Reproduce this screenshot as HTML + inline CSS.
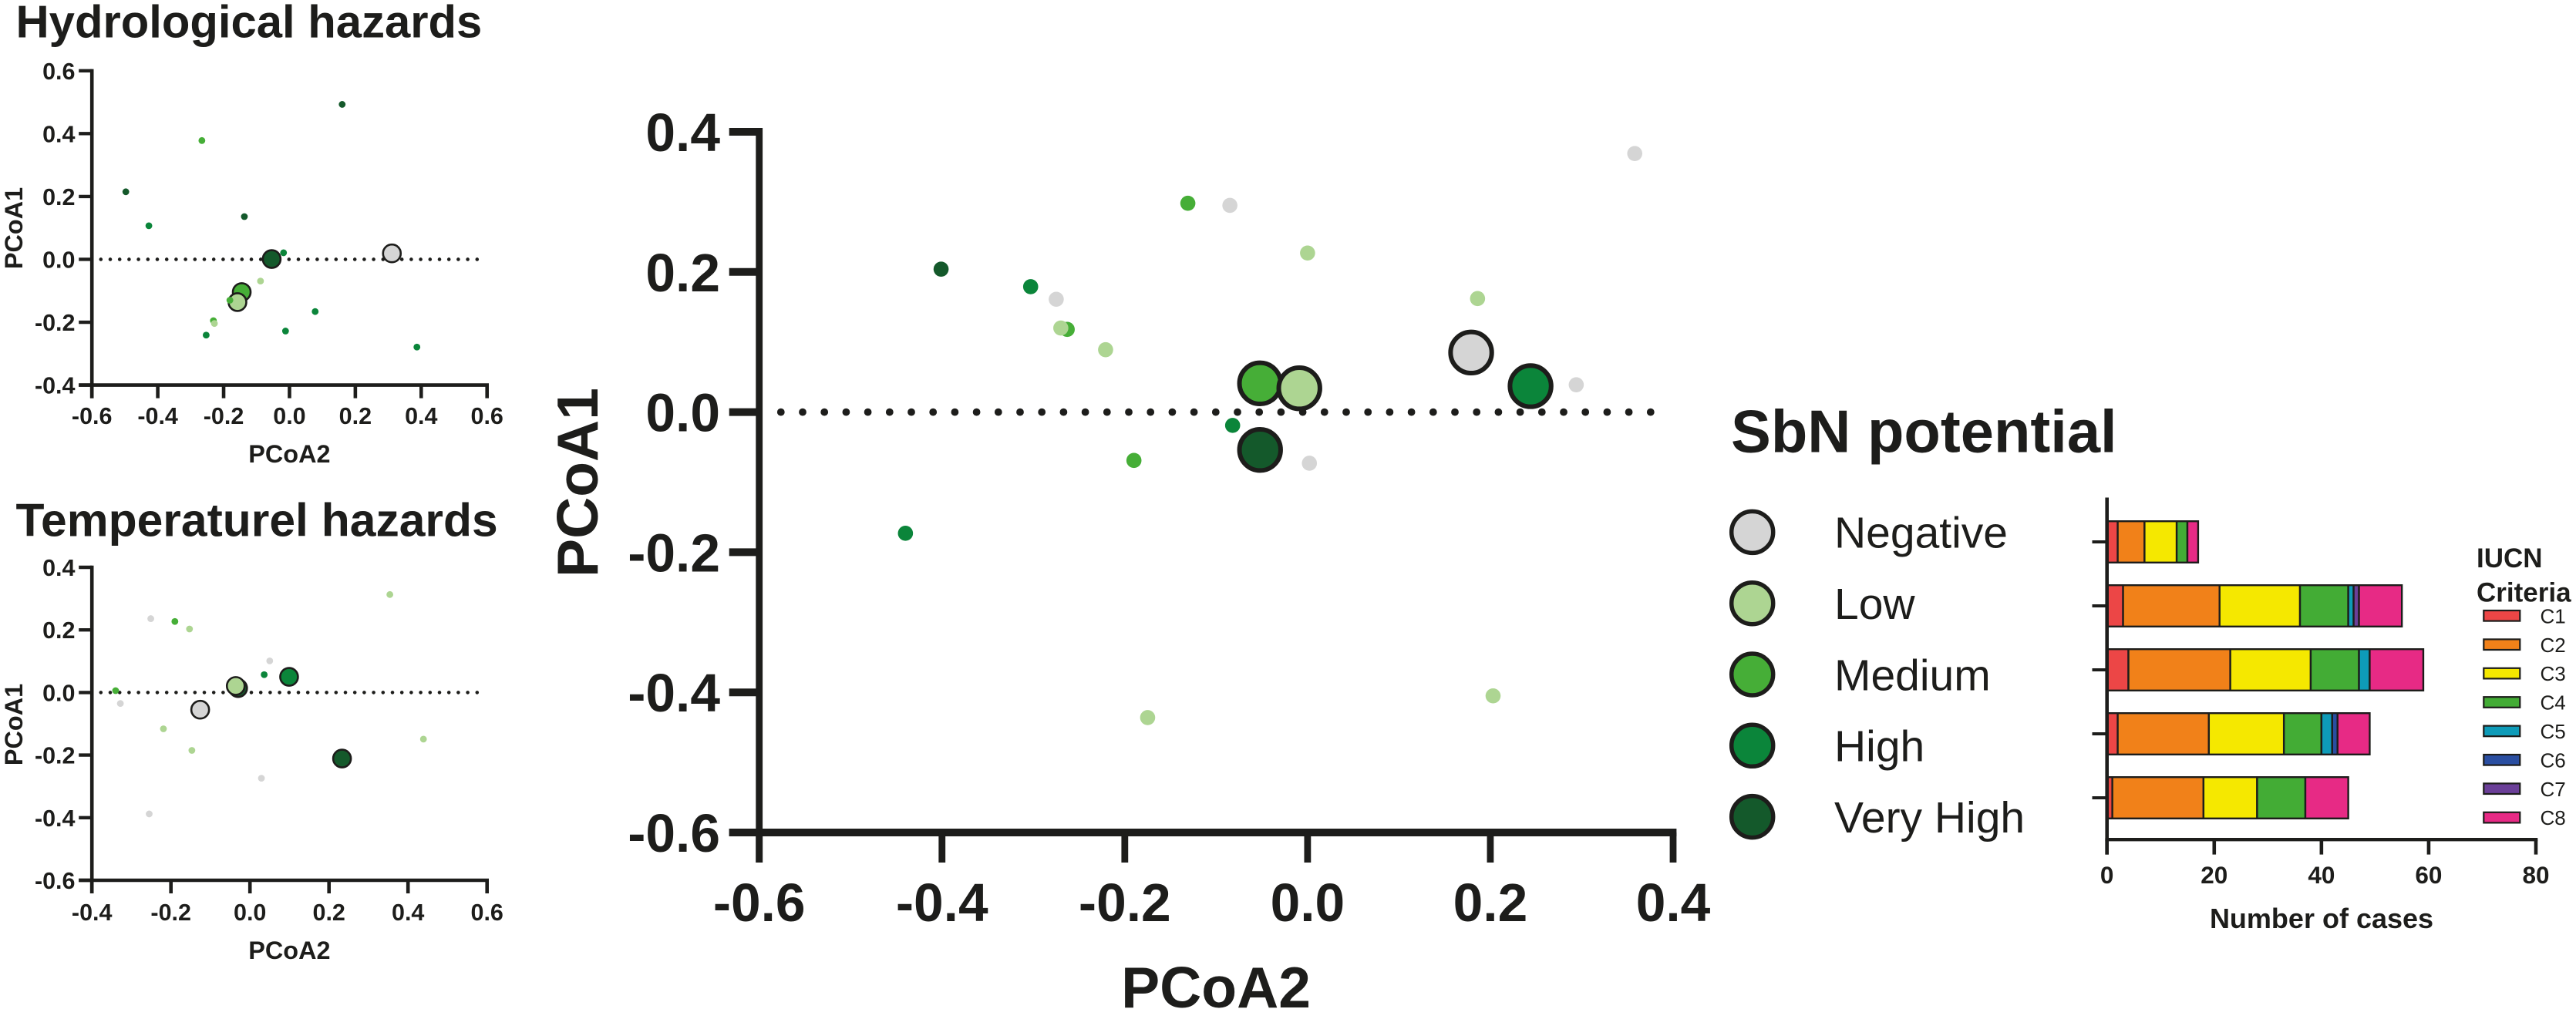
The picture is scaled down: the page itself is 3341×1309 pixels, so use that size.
<!DOCTYPE html>
<html lang="en">
<head>
<meta charset="utf-8">
<title>SbN potential ordination and IUCN criteria</title>
<style>
html,body{margin:0;padding:0;background:#fff;}
body{width:3341px;height:1309px;overflow:hidden;}
svg{display:block;}
text{font-family:"Liberation Sans",sans-serif;fill:#1d1d1b;}
</style>
</head>
<body>
<svg id="figure" xmlns="http://www.w3.org/2000/svg" width="3341" height="1309" viewBox="0 0 3341 1309">
  <rect x="0" y="0" width="3341" height="1309" fill="#ffffff"/>
  <text x="20.5" y="48.5" font-size="59.8" font-weight="700">Hydrological hazards</text>
  <text x="20.5" y="695.5" font-size="60.6" font-weight="700">Temperaturel hazards</text>
  <text x="2245" y="586.5" font-size="77.7" font-weight="700">SbN potential</text>
  <text x="3212" y="736" font-size="35" font-weight="700">IUCN</text>
  <text x="3212" y="780.4" font-size="35" font-weight="700">Criteria</text>
</svg>
<script>
// ---------- shared categories ----------
const levelNames = ['Negative', 'Low', 'Medium', 'High', 'Very High'];
const levelColors = ['#d5d5d5', '#add592', '#46ae37', '#0b853a', '#14592b'];

// ---------- hydrological panel ----------
const hydroXTicks = ['-0.6', '-0.4', '-0.2', '0.0', '0.2', '0.4', '0.6'];
const hydroYTicks = ['-0.4', '-0.2', '0.0', '0.2', '0.4', '0.6'];
const hydroLevel = [4, 2, 4, 3, 4, 3, 1, 2, 3, 3, 3, 2, 1, 3];
const hydroX = [0.160, -0.266, -0.497, -0.427, -0.137, -0.018, -0.088, -0.181, 0.078, -0.012, -0.253, -0.231, -0.228, 0.387];
const hydroY = [0.493, 0.378, 0.215, 0.107, 0.136, 0.021, -0.069, -0.130, -0.166, -0.228, -0.241, -0.195, -0.204, -0.279];
const hydroMeanLevel = [4, 0, 2, 1];
const hydroMeanX = [-0.054, 0.311, -0.145, -0.158];
const hydroMeanY = [0.001, 0.019, -0.104, -0.136];

// ---------- temperature panel ----------
const tempXTicks = ['-0.4', '-0.2', '0.0', '0.2', '0.4', '0.6'];
const tempYTicks = ['-0.6', '-0.4', '-0.2', '0.0', '0.2', '0.4'];
const tempLevel = [1, 0, 2, 1, 0, 3, 2, 0, 1, 1, 1, 0, 0];
const tempX = [0.354, -0.251, -0.190, -0.153, 0.050, 0.036, -0.340, -0.328, -0.219, -0.147, 0.439, 0.029, -0.255];
const tempY = [0.313, 0.236, 0.227, 0.203, 0.101, 0.057, 0.006, -0.035, -0.116, -0.185, -0.149, -0.274, -0.388];
const tempMeanLevel = [3, 4, 1, 0, 4];
const tempMeanX = [0.099, -0.030, -0.036, -0.126, 0.233];
const tempMeanY = [0.050, 0.014, 0.021, -0.055, -0.211];

// ---------- main panel ----------
const mainXTicks = ['-0.6', '-0.4', '-0.2', '0.0', '0.2', '0.4'];
const mainYTicks = ['-0.6', '-0.4', '-0.2', '0.0', '0.2', '0.4'];
const mainLevel = [0, 2, 0, 1, 3, 0, 2, 1, 1, 1, 0, 3, 2, 0, 4, 3, 1, 1];
const mainX = [0.358, -0.131, -0.085, 0.000, -0.303, -0.275, -0.263, -0.270, -0.221, 0.186, 0.294, -0.082, -0.190, 0.002, -0.401, -0.440, -0.175, 0.203];
const mainY = [0.369, 0.298, 0.295, 0.227, 0.179, 0.161, 0.118, 0.120, 0.089, 0.162, 0.039, -0.019, -0.069, -0.073, 0.204, -0.173, -0.436, -0.405];
const mainMeanLevel = [2, 1, 0, 3, 4];
const mainMeanX = [-0.052, -0.009, 0.179, 0.244, -0.052];
const mainMeanY = [0.041, 0.034, 0.085, 0.037, -0.054];

// ---------- stacked bar chart ----------
const barXTicks = [0, 20, 40, 60, 80];
const criteriaNames = ['C1', 'C2', 'C3', 'C4', 'C5', 'C6', 'C7', 'C8'];
const criteriaColors = ['#ec4646', '#f18119', '#f5e800', '#43ac35', '#0e9bb8', '#2a4ea1', '#6b3f98', '#e72a85'];
const casesC1 = [2, 3, 4, 2, 1];
const casesC2 = [5, 18, 19, 17, 17];
const casesC3 = [6, 15, 15, 14, 10];
const casesC4 = [2, 9, 9, 7, 9];
const casesC5 = [0, 1, 2, 2, 0];
const casesC6 = [0, 0, 0, 1, 0];
const casesC7 = [0, 1, 0, 0, 0];
const casesC8 = [2, 8, 10, 6, 8];
const caseSeries = [casesC1, casesC2, casesC3, casesC4, casesC5, casesC6, casesC7, casesC8];

const INK = '#1d1d1b';
const NS = 'http://www.w3.org/2000/svg';
const root = document.getElementById('figure');

function make(tag, attrs, parent, content) {
  const el = document.createElementNS(NS, tag);
  for (const key in attrs) el.setAttribute(key, attrs[key]);
  if (content !== undefined) el.textContent = content;
  parent.appendChild(el);
  return el;
}

function scatterPanel(cfg) {
  const g = make('g', {}, root);
  
  

  const xMin = parseFloat(cfg.xTicks[0]);
  const xMax = parseFloat(cfg.xTicks[cfg.xTicks.length - 1]);
  const yMin = parseFloat(cfg.yTicks[0]);
  const yMax = parseFloat(cfg.yTicks[cfg.yTicks.length - 1]);
  const sx = v => cfg.left + (v - xMin) / (xMax - xMin) * (cfg.right - cfg.left);
  const sy = v => cfg.bottom - (v - yMin) / (yMax - yMin) * (cfg.bottom - cfg.top);

  const zero = make('line', {
    x1: cfg.dotStart, x2: cfg.dotEnd, y1: sy(0), y2: sy(0),
    stroke: INK, 'stroke-width': cfg.dotSize, 'stroke-linecap': 'round',
    'stroke-dasharray': '0 ' + cfg.dotGap
  }, g);
  
  

  const yAxis = make('line', {
    x1: cfg.left, x2: cfg.left, y1: cfg.top - cfg.tickW / 2, y2: cfg.bottom + cfg.tickLen,
    stroke: INK, 'stroke-width': cfg.axisW
  }, g);
  
  

  const xAxis = make('line', {
    x1: cfg.left - cfg.tickLen, x2: cfg.right + cfg.axisW / 2, y1: cfg.bottom, y2: cfg.bottom,
    stroke: INK, 'stroke-width': cfg.xAxisW
  }, g);
  
  

  cfg.yTicks.forEach(label => {
    const v = parseFloat(label);
    const tick = make('line', {
      x1: cfg.left - cfg.tickLen, x2: cfg.left, y1: sy(v), y2: sy(v),
      stroke: INK, 'stroke-width': cfg.tickW
    }, g);
    
    
    const text = make('text', {
      x: cfg.yLabelRight, y: sy(v) + cfg.yLabelDrop, 'text-anchor': 'end',
      'font-size': cfg.tickFont, 'font-weight': 700
    }, g, label);
    
    
  });

  cfg.xTicks.forEach(label => {
    const v = parseFloat(label);
    const tick = make('line', {
      x1: sx(v), x2: sx(v), y1: cfg.bottom, y2: cfg.bottom + cfg.tickLen,
      stroke: INK, 'stroke-width': cfg.axisW
    }, g);
    
    
    const text = make('text', {
      x: sx(v), y: cfg.xLabelY, 'text-anchor': 'middle',
      'font-size': cfg.tickFont, 'font-weight': 700
    }, g, label);
    
    
  });

  const xTitle = make('text', {
    x: cfg.xTitleX, y: cfg.xTitleY, 'text-anchor': 'middle',
    'font-size': cfg.titleFont, 'font-weight': 700
  }, g, 'PCoA2');
  
  

  const yTitle = make('text', {
    x: 0, y: 0, 'text-anchor': 'middle',
    transform: 'translate(' + cfg.yTitleX + ' ' + cfg.yTitleY + ') rotate(-90)',
    'font-size': cfg.titleFont, 'font-weight': 700
  }, g, 'PCoA1');
  
  

  cfg.meanLevel.forEach((level, i) => {
    const mark = make('circle', {
      cx: sx(cfg.meanX[i]), cy: sy(cfg.meanY[i]), r: cfg.bigR,
      fill: levelColors[level], stroke: INK, 'stroke-width': cfg.bigStroke
    }, g);
    
    
  });

  cfg.level.forEach((level, i) => {
    const mark = make('circle', {
      cx: sx(cfg.x[i]), cy: sy(cfg.y[i]), r: cfg.smallR, fill: levelColors[level]
    }, g);
    
    
  });
}

const smallPanelStyle = {
  left: 119.2, right: 631.7, tickLen: 17, axisW: 4.6, xAxisW: 4.6, tickW: 4.4,
  tickFont: 30.5, titleFont: 32.4, yLabelRight: 97.5, yLabelDrop: 11,
  dotStart: 130.8, dotEnd: 621, dotGap: 12.2, dotSize: 4.6,
  bigR: 11.5, bigStroke: 2.6, smallR: 4.4, xTitleX: 375.4, yTitleX: 29
};

scatterPanel(Object.assign({}, smallPanelStyle, {
  name: 'hydrological', top: 91.8, bottom: 499.6,
  xTicks: hydroXTicks, yTicks: hydroYTicks,
  x: hydroX, y: hydroY, level: hydroLevel,
  meanX: hydroMeanX, meanY: hydroMeanY, meanLevel: hydroMeanLevel,
  xLabelY: 550, xTitleY: 600, yTitleY: 296
}));

scatterPanel(Object.assign({}, smallPanelStyle, {
  name: 'temperature', top: 736, bottom: 1142,
  xTicks: tempXTicks, yTicks: tempYTicks,
  x: tempX, y: tempY, level: tempLevel,
  meanX: tempMeanX, meanY: tempMeanY, meanLevel: tempMeanLevel,
  xLabelY: 1194, xTitleY: 1244, yTitleY: 940
}));

scatterPanel({
  name: 'main', left: 984.7, right: 2170, top: 171, bottom: 1080,
  xTicks: mainXTicks, yTicks: mainYTicks,
  x: mainX, y: mainY, level: mainLevel,
  meanX: mainMeanX, meanY: mainMeanY, meanLevel: mainMeanLevel,
  tickLen: 39, axisW: 8.8, xAxisW: 10, tickW: 10,
  tickFont: 69.5, titleFont: 75, yLabelRight: 934, yLabelDrop: 25,
  dotStart: 1012.8, dotEnd: 2143, dotGap: 28.2, dotSize: 9.8,
  bigR: 26.7, bigStroke: 6, smallR: 9.8,
  xLabelY: 1195, xTitleX: 1577, xTitleY: 1307, yTitleX: 775, yTitleY: 626
});

// ---------- SbN legend ----------
const legendGroup = make('g', {}, root);


levelNames.forEach((name, i) => {
  const cy = 690.4 + i * 92.3;
  const swatch = make('circle', {
    cx: 2272.7, cy: cy, r: 27, fill: levelColors[i], stroke: INK, 'stroke-width': 5.5
  }, legendGroup);
  
  
  const label = make('text', {
    x: 2379, y: cy + 20.3, 'font-size': 57
  }, legendGroup, name);
  
  
});

// ---------- stacked bars ----------
const barGroup = make('g', {}, root);


const barLeft = 2732.7, barRight = 3289, barBottom = 1089.2;
const barScale = v => barLeft + v / barXTicks[barXTicks.length - 1] * (barRight - barLeft);
const rowCenter = i => 703 + i * 83;

casesC1.forEach((unused, row) => {
  let running = 0;
  caseSeries.forEach((series, s) => {
    const value = series[row];
    if (value > 0) {
      const seg = make('rect', {
        x: barScale(running), y: rowCenter(row) - 26.8,
        width: barScale(running + value) - barScale(running), height: 53.6,
        fill: criteriaColors[s], stroke: INK, 'stroke-width': 2.4
      }, barGroup);
      
      
    }
    running += value;
  });
  const tick = make('line', {
    x1: 2713.5, x2: barLeft, y1: rowCenter(row), y2: rowCenter(row),
    stroke: INK, 'stroke-width': 4
  }, barGroup);
  
  
});

const barYAxis = make('line', {
  x1: barLeft, x2: barLeft, y1: 645.5, y2: 1108.6, stroke: INK, 'stroke-width': 4.6
}, barGroup);



const barXAxis = make('line', {
  x1: barLeft - 2.3, x2: barRight + 2.3, y1: barBottom, y2: barBottom, stroke: INK, 'stroke-width': 4.4
}, barGroup);



barXTicks.forEach(value => {
  const tick = make('line', {
    x1: barScale(value), x2: barScale(value), y1: barBottom, y2: 1108.6, stroke: INK, 'stroke-width': 4.6
  }, barGroup);
  
  
  const label = make('text', {
    x: barScale(value), y: 1146, 'text-anchor': 'middle', 'font-size': 31.5, 'font-weight': 700
  }, barGroup, String(value));
  
  
});

const barTitle = make('text', {
  x: 3011, y: 1204, 'text-anchor': 'middle', 'font-size': 36, 'font-weight': 700
}, barGroup, 'Number of cases');



// ---------- IUCN legend ----------
criteriaNames.forEach((name, i) => {
  const cy = 798.8 + i * 37.4;
  const swatch = make('rect', {
    x: 3221.3, y: cy - 6.8, width: 47, height: 13.6,
    fill: criteriaColors[i], stroke: INK, 'stroke-width': 2.2
  }, root);
  
  
  const label = make('text', {
    x: 3294.5, y: cy + 9.6, 'font-size': 26
  }, root, name);
  
  
});
</script>
</body>
</html>
